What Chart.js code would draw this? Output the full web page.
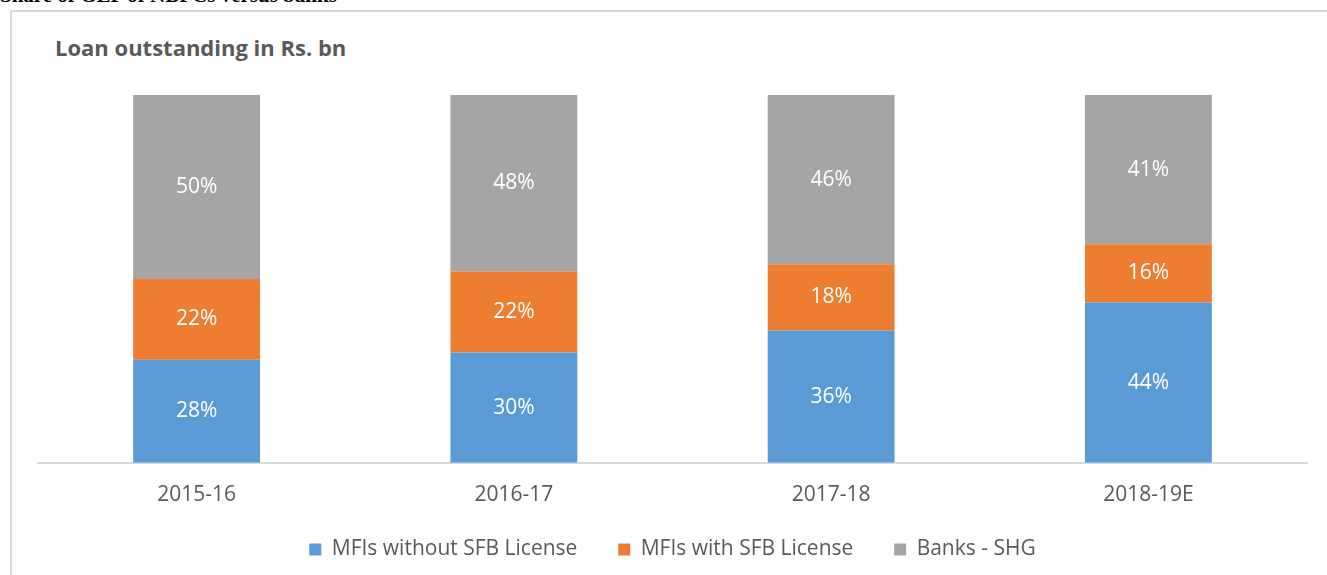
<!DOCTYPE html>
<html>
<head>
<meta charset="utf-8">
<script src="https://cdn.jsdelivr.net/npm/chart.js@4"></script>
<style>
  body { margin: 0; background: #fff; overflow: hidden; }
  #wrap { position: relative; width: 1327px; height: 575px; }
  #heading { position: absolute; left: 0; top: -17px; font: bold 21px "Liberation Serif", serif; color: #000; white-space: nowrap; }
  #frame { position: absolute; left: 10px; top: 10px; width: 1317px; height: 565px; border-left: 2px solid #d9d9d9; border-top: 2px solid #d9d9d9; box-sizing: border-box; }
  #title { position: absolute; left: 55px; top: 32px; font: bold 22px "Open Sans", sans-serif; color: #595959; }
  canvas { position: absolute; left: 0; top: 0; }
</style>
</head>
<body>
<div id="wrap">
  <div id="heading">Share of GLP of NBFCs versus banks</div>
  <div id="frame"></div>
  <div id="title">Loan outstanding in Rs. bn</div>
  <canvas id="loanChart" width="1327" height="575"></canvas>
</div>
<script>
var years = ['2015-16', '2016-17', '2017-18', '2018-19E'];
var mfiNoSfb = [28, 30, 36, 44];
var mfiSfb = [22, 22, 18, 16];
var banksShg = [50, 48, 46, 41];

// 100% stacked: each column is scaled to its own total
var totals = years.map(function(y, i) { return mfiNoSfb[i] + mfiSfb[i] + banksShg[i]; });
function share(arr) {
    return arr.map(function(v, i) { return v / totals[i] * 100; });
}

var barLabels = {
    id: 'barLabels',
    afterDatasetsDraw: function(chart) {
        var ctx = chart.ctx;
        ctx.save();
        ctx.font = '21px "Open Sans", sans-serif';
        ctx.fillStyle = '#ffffff';
        ctx.textAlign = 'center';
        ctx.textBaseline = 'middle';
        chart.data.datasets.forEach(function(ds, i) {
            chart.getDatasetMeta(i).data.forEach(function(bar, j) {
                var p = bar.getProps(['x', 'y', 'base'], true);
                ctx.fillText(ds.raw[j] + '%', p.x, (p.y + p.base) / 2);
            });
        });
        ctx.restore();
    }
};

var ctx = document.getElementById('loanChart').getContext('2d');
new Chart(ctx, {
    type: 'bar',
    data: {
        labels: years,
        datasets: [{
            label: 'MFIs without SFB License',
            data: share(mfiNoSfb),
            raw: mfiNoSfb,
            backgroundColor: '#5b9bd5'
        }, {
            label: 'MFIs with SFB License',
            data: share(mfiSfb),
            raw: mfiSfb,
            backgroundColor: '#ed7d31'
        }, {
            label: 'Banks - SHG',
            data: share(banksShg),
            raw: banksShg,
            backgroundColor: '#a5a5a5'
        }]
    },
    options: {
        responsive: false,
        animation: false,
        layout: { padding: { left: 38, right: 20, top: 95, bottom: 5 } },
        datasets: { bar: { categoryPercentage: 1, barPercentage: 0.4 } },
        scales: {
            x: {
                stacked: true,
                grid: { display: false },
                border: { color: '#d9d9d9', width: 2 },
                ticks: { color: '#595959', font: { family: 'Open Sans', size: 21 }, padding: 12 }
            },
            y: {
                stacked: true,
                display: false,
                min: 0,
                max: 100
            }
        },
        plugins: {
            legend: {
                position: 'bottom',
                labels: {
                    color: '#595959',
                    font: { family: 'Open Sans', size: 21 },
                    boxWidth: 12,
                    boxHeight: 12,
                    padding: 19,
                    // extra space after the first two items
                    generateLabels: function(chart) {
                        var items = Chart.defaults.plugins.legend.labels.generateLabels(chart);
                        items.forEach(function(it, i) {
                            if (i < items.length - 1) it.text = it.text + '    ';
                        });
                        return items;
                    }
                }
            },
            tooltip: { enabled: false }
        }
    },
    plugins: [barLabels]
});
</script>
</body>
</html>
